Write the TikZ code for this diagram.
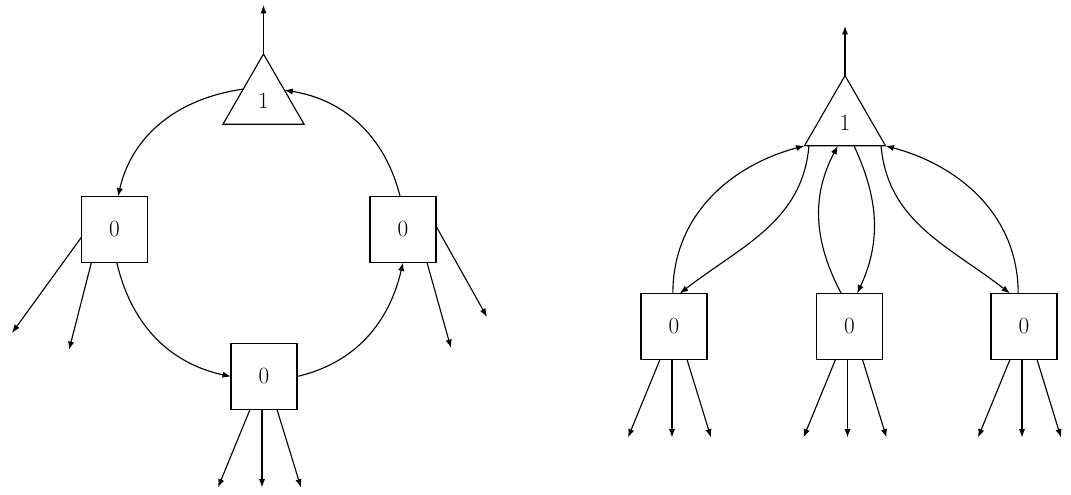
\documentclass[tikz,border=0pt]{standalone}
\usepackage{tikz}
\usetikzlibrary{shapes.geometric, arrows.meta, calc}

\begin{document}
\begin{tikzpicture}[
    x=0.025cm, y=-0.025cm,
    every node/.style={font=\fontsize{16.5}{20}\selectfont},
    box/.style={rectangle, draw, line width=0.8pt, minimum size=1.65cm,
                inner sep=0pt, outer sep=0pt},
    tri/.style={regular polygon, regular polygon sides=3, draw, line width=0.8pt,
                minimum size=2.34cm, inner sep=0pt, outer sep=0pt},
    arrow/.style={-{Latex[length=6pt,width=4.4pt]}, line width=0.8pt}
]
\useasboundingbox (0,0) rectangle (1071,494);

% ring
\node[tri] (lone) at (263.5,100.8) {1};
\node[box] (lwest) at (114.5,229.5) {0};
\node[box] (least) at (403,229.5) {0};
\node[box] (lsouth) at (264,376.5) {0};

\coordinate (lout) at (263.5,5);
\draw[arrow] (lone.corner 1) -- (lout);

\draw[arrow] (lone.150) to[out=188, in=77] (lwest.84);
\draw[arrow] (least.95) to[out=104, in=-9] (lone.27);
\draw[arrow] (lwest.-86) to[out=-77, in=168] (lsouth.west);
\draw[arrow] (lsouth.east) to[out=13, in=-103] (least.south);

\coordinate (lwest-a) at (12,333);
\coordinate (lwest-b) at (69,350);
\coordinate (least-a) at (487,317);
\coordinate (least-b) at (451,348);
\draw[arrow] (lwest.193) -- (lwest-a);
\draw[arrow] (lwest.235) -- (lwest-b);
\draw[arrow] (least.6) -- (least-a);
\draw[arrow] (least.-54) -- (least-b);

% star
\node[tri] (rone) at (845,122.4) {1};
\node[box] (rleft) at (674,326.5) {0};
\node[box] (rmid) at (849.5,326.5) {0};
\node[box] (rright) at (1024,326.5) {0};

\coordinate (rout) at (845,26);
\draw[arrow] (rone.corner 1) -- (rout);

\draw[arrow] (rleft.92) to[out=90, in=195] (rone.corner 2);
\draw[arrow] (rone.213) to[out=-95, in=38] (rleft.80);
\draw[arrow] (rmid.104) to[out=118, in=-118] (rone.253);
\draw[arrow] (rone.-69) to[out=-65, in=65] (rmid.77);
\draw[arrow] (rone.-33) to[out=-85, in=142] (rright.113);
\draw[arrow] (rright.100) to[out=90, in=-15] (rone.corner 3);

% outputs below the boxes
\foreach \b in {lsouth, rleft, rmid, rright} {
  \foreach \s/\e [count=\i] in {-14/-46, -2/-2, 13/37} {
    \coordinate (\b-\i) at ($(\b.south)+(\e,78)$);
    \draw[arrow] ($(\b.south)+(\s,0)$) -- (\b-\i);
  }
}

\end{tikzpicture}
\end{document}
